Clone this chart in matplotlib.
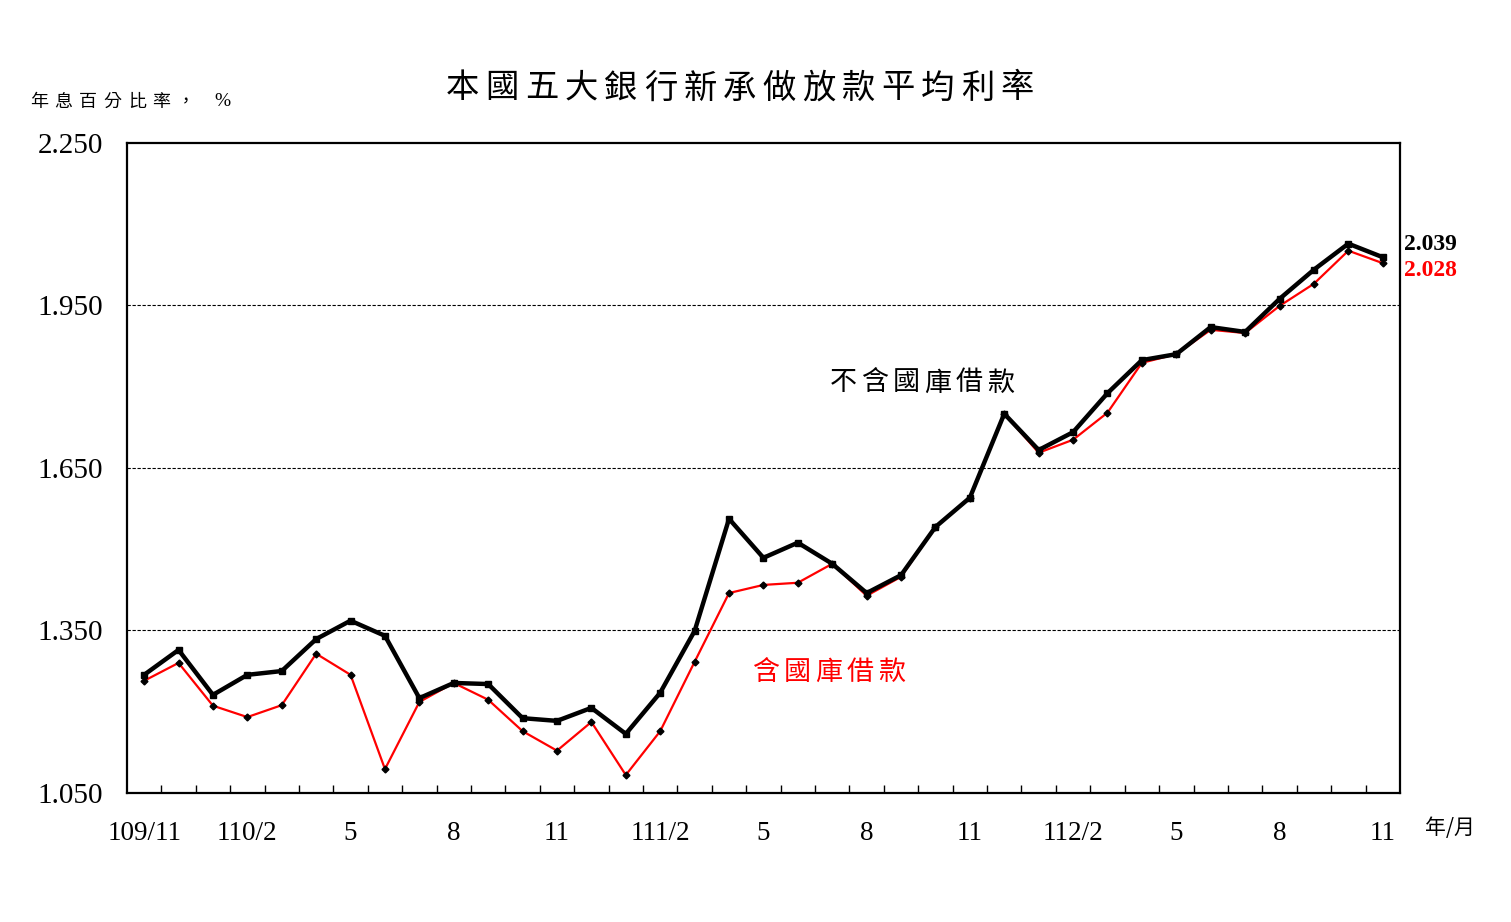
import matplotlib
matplotlib.use("Agg")
import matplotlib.pyplot as plt
import numpy as np

CJK = ["Noto Sans CJK TC", "DejaVu Sans"]
SERIF = ["Liberation Serif", "DejaVu Serif"]

# months 109/11 .. 112/11
months = ["109/11", "12", "110/1", "110/2", "3", "4", "5", "6", "7", "8", "9", "10",
          "11", "12", "111/1", "111/2", "3", "4", "5", "6", "7", "8", "9", "10",
          "11", "12", "112/1", "112/2", "3", "4", "5", "6", "7", "8", "9", "10", "11"]
# 不含國庫借款
excl_treasury = [1.268, 1.314, 1.231, 1.268, 1.275, 1.334, 1.368, 1.340, 1.225, 1.253,
                 1.251, 1.188, 1.183, 1.207, 1.159, 1.235, 1.349, 1.556, 1.484, 1.512,
                 1.473, 1.419, 1.452, 1.541, 1.595, 1.750, 1.683, 1.716, 1.788, 1.849,
                 1.860, 1.910, 1.901, 1.962, 2.016, 2.064, 2.039]
# 含國庫借款
incl_treasury = [1.257, 1.290, 1.211, 1.190, 1.212, 1.307, 1.268, 1.094, 1.218, 1.253,
                 1.222, 1.164, 1.128, 1.181, 1.083, 1.164, 1.292, 1.419, 1.434, 1.438,
                 1.473, 1.414, 1.449, 1.541, 1.595, 1.750, 1.678, 1.702, 1.752, 1.844,
                 1.860, 1.905, 1.899, 1.949, 1.990, 2.051, 2.028]
xlabels = ["109/11", "110/2", "5", "8", "11", "111/2", "5", "8", "11", "112/2", "5", "8", "11"]
yticks = [1.050, 1.350, 1.650, 1.950, 2.250]

W, H = 1511, 922
fig = plt.figure(figsize=(W / 100, H / 100), dpi=100)
ax = fig.add_axes([0.084, 0.140, 0.8425, 0.705])
x = np.arange(len(months))


def spaced(x0, y, s, pitch, **kw):
    # CJK text with wide letter spacing, positions in pixels from top-left
    for i, ch in enumerate(s):
        fig.text((x0 + i * pitch) / W, 1 - y / H, ch, ha="left", va="center", **kw)


ax.plot(x, incl_treasury, color="red", lw=1.6, marker="D", ms=3.5,
        mfc="black", mec="black", zorder=3)
ax.plot(x, excl_treasury, color="black", lw=3.2, marker="s", ms=5,
        mfc="black", mec="black", zorder=4)

ax.set_xlim(-0.5, len(months) - 0.5)
ax.set_ylim(1.05, 2.25)
ax.set_yticks(yticks)
ax.set_yticklabels([f"{v:.3f}" for v in yticks], family=SERIF, fontsize=21)
ax.tick_params(axis="y", length=0, pad=17)
for v in [1.35, 1.65, 1.95]:
    ax.axhline(v, color="black", lw=0.8, ls=(0, (3, 1.5)), zorder=1)

ax.set_xticks(x[::3])
ax.set_xticklabels(xlabels, family=SERIF, fontsize=19.5)
ax.tick_params(axis="x", length=0, pad=20)
ax.set_xticks(np.arange(0.5, len(months) - 1, 1), minor=True)
ax.tick_params(axis="x", which="minor", direction="in", length=6, width=1)
for s in ax.spines.values():
    s.set_linewidth(1.6)

spaced(446, 88, "本國五大銀行新承做放款平均利率", 39.6, family=CJK, fontsize=24)
spaced(30, 102, "年息百分比率，", 24.5, family=CJK, fontsize=13)
fig.text(214 / W, 1 - 102 / H, "%", family=SERIF, fontsize=14, ha="left", va="center")
fig.text(1425 / W, 1 - 828 / H, "年/月", family=CJK, fontsize=15, ha="left", va="center")

spaced(830, 383, "不含國庫借款", 31.5, family=CJK, fontsize=19.5, color="black")
spaced(752, 672, "含國庫借款", 31.5, family=CJK, fontsize=19.5, color="red")

ax.text(1.003, 2.062, f"{excl_treasury[-1]:.3f}", transform=ax.get_yaxis_transform(),
        family=SERIF, fontsize=17, fontweight="bold", color="black", ha="left", va="center")
ax.text(1.003, 2.014, f"{incl_treasury[-1]:.3f}", transform=ax.get_yaxis_transform(),
        family=SERIF, fontsize=17, fontweight="bold", color="red", ha="left", va="center")

fig.savefig("out.png", dpi=100)
